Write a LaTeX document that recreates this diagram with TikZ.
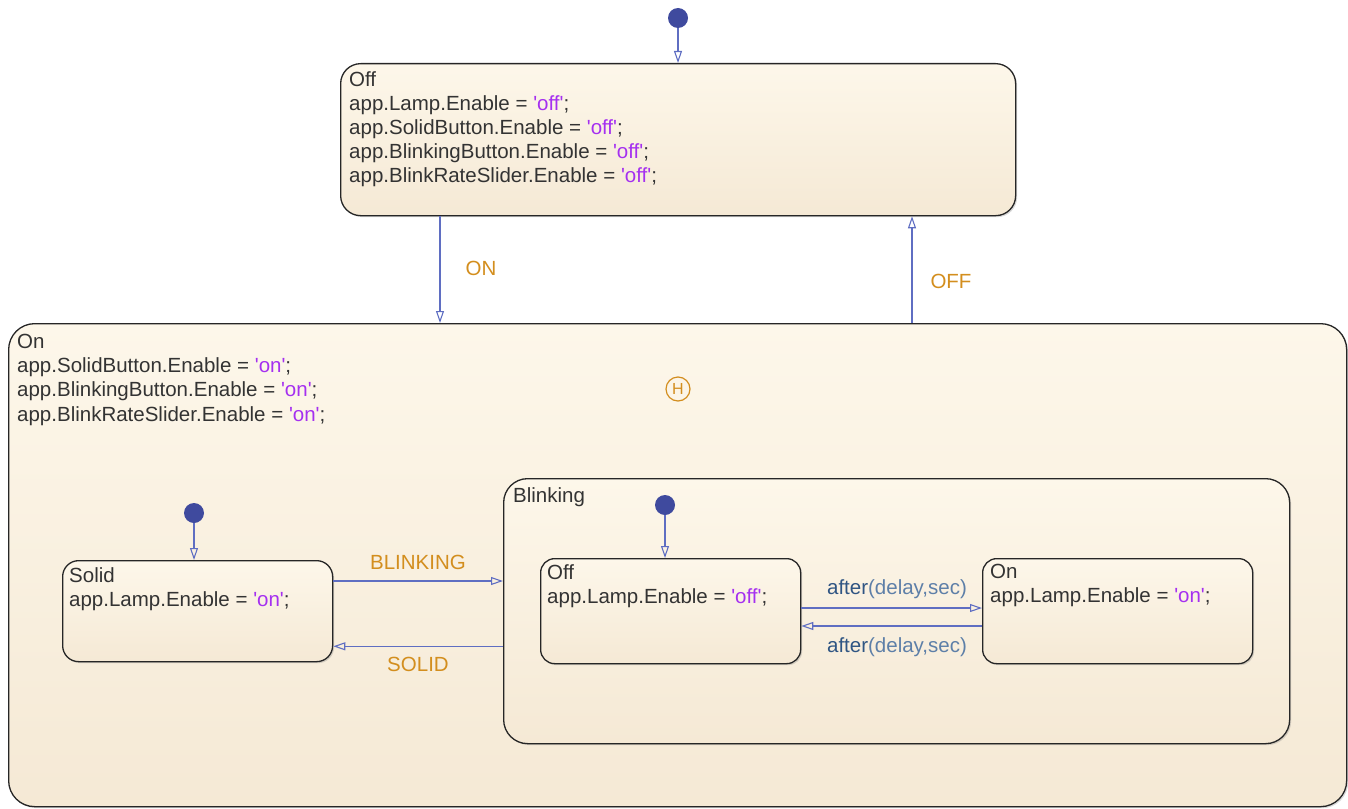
\documentclass[tikz,border=0pt]{standalone}
\usepackage{fontspec}
\setmainfont{Liberation Sans}
\usetikzlibrary{arrows.meta,shadows}
\definecolor{filltop}{HTML}{FDF7EA}
\definecolor{fillbot}{HTML}{F5E9D5}
\definecolor{wirecol}{HTML}{5F6EC2}
\definecolor{dotcol}{HTML}{3F4A9E}
\definecolor{evtcol}{HTML}{D38E1E}
\definecolor{strcol}{HTML}{A530F0}
\definecolor{aftcol}{HTML}{2F5583}
\definecolor{argcol}{HTML}{5D7FA8}
\newcommand{\qval}[1]{\textcolor{strcol}{\textquotesingle#1\textquotesingle}}
\newcommand{\aftlabel}{\textcolor{aftcol}{after}\textcolor{argcol}{(delay,sec)}}
\tikzset{chart/.style={draw=black!85,line width=1.3pt,anchor=north west,inner sep=0pt,
    top color=filltop,bottom color=fillbot,
    drop shadow={shadow xshift=1.5pt,shadow yshift=-1.5pt,opacity=.3}},
  stext/.style={anchor=north west,align=left,inner sep=0pt,text=black!80,
    font=\fontsize{20.5}{24.2}\selectfont},
  evt/.style={text=evtcol,inner sep=0pt,font=\fontsize{20.5}{24}\selectfont},
  aft/.style={inner sep=0pt,font=\fontsize{20.5}{24}\selectfont},
  dflt/.style={circle,fill=dotcol,minimum size=20pt,inner sep=0pt},
  wire/.style={-{Triangle[open,length=12pt,width=8pt]},draw=wirecol,line width=1.1pt}}

\begin{document}
\begin{tikzpicture}[x=1pt,y=-1pt]
  \path[use as bounding box] (0,0) rectangle (1348,808);
  % top level states
  \node[chart,rounded corners=20pt,minimum width=675pt,minimum height=152pt] (off) at (340,63) {};
  \node[stext] (offtxt) at (349,71) {Off\\
    app.Lamp.Enable = \qval{off};\\
    app.SolidButton.Enable = \qval{off};\\
    app.BlinkingButton.Enable = \qval{off};\\
    app.BlinkRateSlider.Enable = \qval{off};};
  \node[chart,rounded corners=26pt,minimum width=1338pt,minimum height=483pt] (on) at (8,323) {};
  \node[stext] (ontxt) at (17,334) {On\\
    app.SolidButton.Enable = \qval{on};\\
    app.BlinkingButton.Enable = \qval{on};\\
    app.BlinkRateSlider.Enable = \qval{on};};
  \node[circle,draw=evtcol,line width=1.2pt,minimum size=24pt,inner sep=0pt,text=evtcol,
    font=\fontsize{16}{16}\selectfont] (hist) at (678,389) {H};
  % substates of On
  \node[chart,rounded corners=16pt,minimum width=270pt,minimum height=101pt] (solid) at (62,560) {};
  \node[stext] (solidtxt) at (69,567) {Solid\\ app.Lamp.Enable = \qval{on};};
  \node[chart,rounded corners=24pt,minimum width=786pt,minimum height=265pt] (blink) at (503,478) {};
  \node[stext] (blinktxt) at (513,487) {Blinking};
  \node[chart,rounded corners=14pt,minimum width=260pt,minimum height=105pt] (boff) at (540,558) {};
  \node[stext] (bofftxt) at (547,564) {Off\\ app.Lamp.Enable = \qval{off};};
  \node[chart,rounded corners=14pt,minimum width=270pt,minimum height=105pt] (bon) at (982,558) {};
  \node[stext] (bontxt) at (990,564) {On\\ app.Lamp.Enable = \qval{on};};
  % default transitions
  \node[dflt] (d0) at (678,18) {};
  \node[dflt] (d1) at (194,513) {};
  \node[dflt] (d2) at (665,505) {};
  \draw[wire] (d0) -- (d0 |- off.north);
  \draw[wire] (d1) -- (d1 |- solid.north);
  \draw[wire] (d2) -- (d2 |- boff.north);
  % transitions
  \draw[wire] ([xshift=100pt]off.south west) -- ([xshift=100pt]off.south west |- on.north);
  \draw[wire] ([xshift=904pt]on.north west) -- ([xshift=904pt]on.north west |- off.south);
  \draw[wire] ([yshift=-21pt]solid.north east) -- ([yshift=-21pt]solid.north east -| blink.west);
  \draw[wire] ([yshift=16pt]solid.south east -| blink.west) -- ([yshift=16pt]solid.south east);
  \draw[wire] ([yshift=-50pt]boff.north east) -- ([yshift=-50pt]boff.north east -| bon.west);
  \draw[wire] ([yshift=-68pt]bon.north west) -- ([yshift=-68pt]bon.north west -| boff.east);
  \node[evt] (lon) at (481,268) {ON};
  \node[evt] (loff) at (951,281) {OFF};
  \node[evt] (lblink) at (418,562) {BLINKING};
  \node[evt] (lsolid) at (418,664) {SOLID};
  \node[aft] (laft1) at (897,589) {\aftlabel};
  \node[aft] (laft2) at (897,647) {\aftlabel};
\end{tikzpicture}
\end{document}
